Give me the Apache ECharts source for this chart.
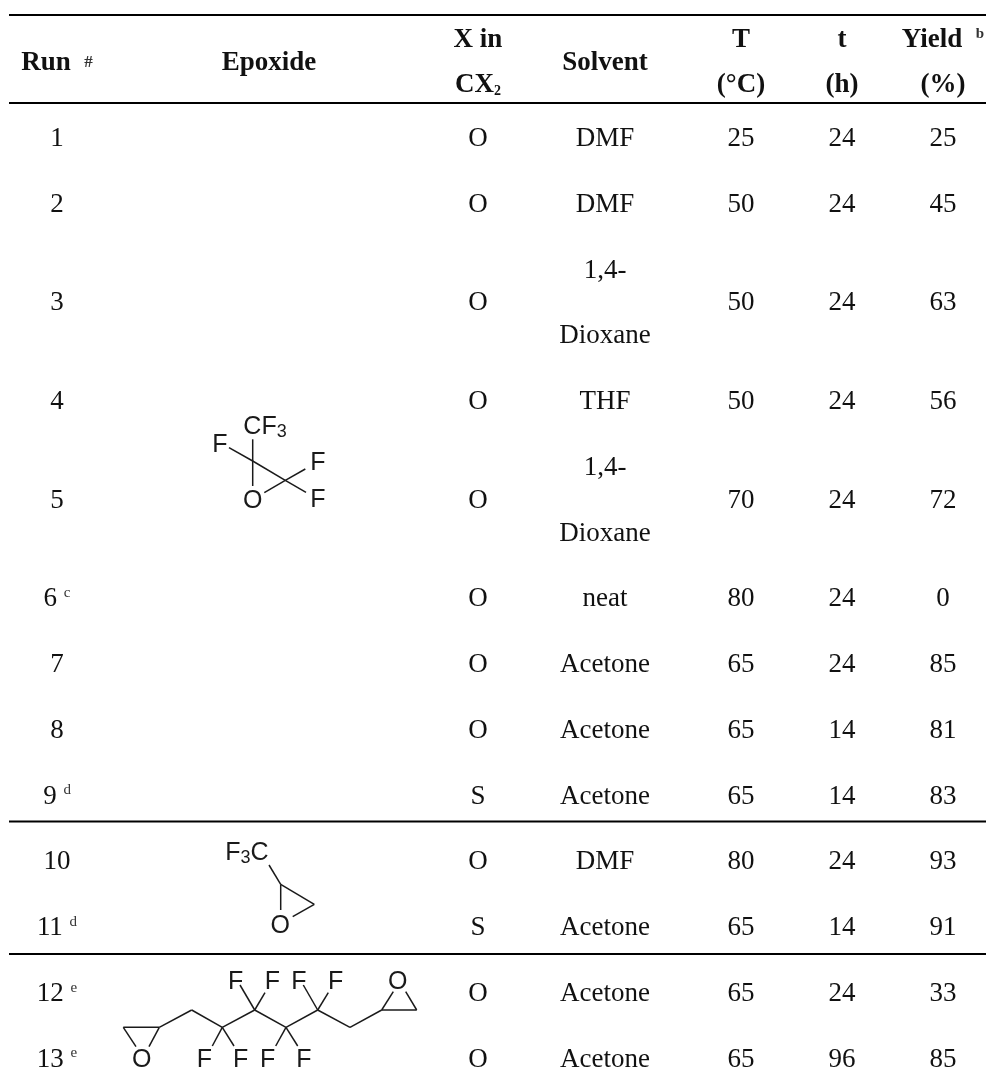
<!DOCTYPE html>
<html><head><meta charset="utf-8">
<style>html,body{margin:0;padding:0;background:#fff}#c{width:986px;height:1077px}</style>
<script src="https://cdn.jsdelivr.net/npm/echarts@6/dist/echarts.min.js"></script>
</head><body><div id="c"></div>
<script>
// ---- table content ----
const runs = ['1','2','3','4','5','6 {sup|c}','7','8','9 {sup|d}','10','11 {sup|d}','12 {sup|e}','13 {sup|e}'];
const xInCX2 = ['O','O','O','O','O','O','O','O','S','O','S','O','O'];
const solvents = ['DMF','DMF','1,4-\nDioxane','THF','1,4-\nDioxane','neat','Acetone','Acetone','Acetone','DMF','Acetone','Acetone','Acetone'];
const temps = [25,50,50,50,70,80,65,65,65,80,65,65,65];
const times = [24,24,24,24,24,24,24,14,14,24,14,24,96];
const yields = [25,45,63,56,72,0,85,81,83,93,91,33,85];
const rowSpans = [1,1,2,1,2,1,1,1,1,1,1,1,1];
const headers = [['Run  {hash|#}'],['Epoxide'],['X in','CX{s2|2}'],['Solvent'],['T','(°C)'],['t','(h)'],['Yield  {sup2|b}','(%)']];

// ---- layout ----
const colX = [57,269,478,605,741,842,943];
const rowStart = 139, rowUnit = 65.75;
const headLines = [40,85], headMid = 63;
const ruleYs = [[15],[103],[821.5],[954]];

// ---- structure drawings ----
const bonds = [
 // perfluoropropylene oxide
 [[252.7,461],[285.3,480.3]],[[252.7,439.3],[252.7,486]],[[229,447.7],[252.7,461]],[[285.3,480.3],[264.3,492.7]],[[285.3,480.3],[305.3,469]],[[285.3,480.3],[306,492.3]],
 // trifluoropropylene oxide
 [[269,865],[280.7,884.3]],[[280.7,884.3],[280.7,910]],[[280.7,884.3],[314.3,904.3]],[[314.3,904.3],[292.7,916.7]],
 // bis-epoxide
 [[123.3,1027.3],[159.3,1027.3]],[[123.3,1027.3],[136,1046.7]],[[159.3,1027.3],[149,1046.7]],
 [[159.3,1027.3],[191.7,1010]],[[191.7,1010],[222.3,1027.3]],[[222.3,1027.3],[254.7,1010]],[[254.7,1010],[286,1027.3]],[[286,1027.3],[317.7,1010]],[[317.7,1010],[350,1027.3]],[[350,1027.3],[381.7,1010]],
 [[381.7,1010],[416.7,1010]],[[381.7,1010],[393.3,991.7]],[[416.7,1010],[405.7,991.7]],
 [[222.3,1027.3],[212.3,1046]],[[222.3,1027.3],[234,1046]],[[286,1027.3],[275.7,1046]],[[286,1027.3],[297.7,1046]],
 [[254.7,1010],[240,985]],[[254.7,1010],[265,992.7]],[[317.7,1010],[303.3,985]],[[317.7,1010],[328.3,992.7]]
];
const atoms = [
 [265,427,'CF{sb|3}'],[220,445.5,'F'],[318,463.5,'F'],[318,500.5,'F'],[252.7,501.5,'O'],
 [247,853,'F{sb|3}C'],[280.3,926.5,'O'],
 [141.7,1060.5,'O'],[204.3,1060.5,'F'],[240.7,1060.5,'F'],[267.7,1060.5,'F'],[304,1060.5,'F'],
 [235.7,982.5,'F'],[272.3,982.5,'F'],[299,982.5,'F'],[335.7,982.5,'F'],[397.7,982.5,'O']
];

// ---- build cells ----
const rowCenters = [];
{ let u = 0; rowSpans.forEach(s => { rowCenters.push(rowStart + (u + (s-1)/2) * rowUnit); u += s; }); }
const bodyCells = [];
[runs,null,xInCX2,solvents,temps,times,yields].forEach((col,ci) => {
  if (!col) return;
  col.forEach((v,ri) => {
    const parts = String(v).split('\n');
    parts.forEach((p,pi) => bodyCells.push([colX[ci], rowCenters[ri] + (pi-(parts.length-1)/2)*rowUnit, p]));
  });
});
const headCells = [];
headers.forEach((h,ci) => h.forEach((t,i) => headCells.push([colX[ci], h.length===1?headMid:headLines[i], t])));

const INK = '#111';
const bodyFont = 'Liberation Serif';
const chart = echarts.init(document.getElementById('c'), null, {renderer:'canvas'});
const lineItem = (w) => (params, api) => {
  const a = api.coord([api.value(0),api.value(1)]), b = api.coord([api.value(2),api.value(3)]);
  return {type:'line', shape:{x1:a[0],y1:a[1],x2:b[0],y2:b[1]}, style:{stroke:w>1.6?'#000':'#1a1a1a', lineWidth:w}, silent:true};
};
const solid = {opacity:1};
chart.setOption({
  animation:false,
  backgroundColor:'#fff',
  grid:{left:0,right:0,top:0,bottom:0},
  xAxis:{type:'value',min:0,max:986,show:false},
  yAxis:{type:'value',min:0,max:1077,inverse:true,show:false},
  series:[
    {type:'custom',coordinateSystem:'cartesian2d',renderItem:lineItem(2.2),clip:false,
     data:ruleYs.map(r=>[9,r[0],986,r[0]])},
    {type:'custom',coordinateSystem:'cartesian2d',renderItem:lineItem(1.5),clip:false,
     data:bonds.map(b=>[b[0][0],b[0][1],b[1][0],b[1][1]])},
    {type:'scatter',symbolSize:0,silent:true,itemStyle:solid,data:bodyCells,
     label:{show:true,position:'inside',formatter:p=>p.data[2],color:INK,fontFamily:bodyFont,fontSize:27,
       rich:{sup:{fontFamily:bodyFont,fontSize:15,color:'#333',verticalAlign:'top',padding:[0,0,10,0]}}}},
    {type:'scatter',symbolSize:0,silent:true,itemStyle:solid,data:headCells,
     label:{show:true,position:'inside',formatter:p=>p.data[2],color:INK,fontFamily:bodyFont,fontWeight:'bold',fontSize:27,
       rich:{hash:{fontFamily:bodyFont,fontSize:17,color:'#333'},
             s2:{fontFamily:bodyFont,fontWeight:'bold',fontSize:14,color:INK,verticalAlign:'bottom',padding:[8,0,0,0]},
             sup2:{fontFamily:bodyFont,fontWeight:'bold',fontSize:15,color:'#333',verticalAlign:'top',padding:[0,0,8,0]}}}},
    {type:'scatter',symbolSize:0,silent:true,itemStyle:solid,data:atoms,
     label:{show:true,position:'inside',formatter:p=>p.data[2],color:'#1a1a1a',fontFamily:'Liberation Sans',fontSize:25,
       rich:{sb:{fontFamily:'Liberation Sans',fontSize:18,color:'#1a1a1a',verticalAlign:'bottom',padding:[10,0,0,0]}}}}
  ]
});
</script></body></html>
